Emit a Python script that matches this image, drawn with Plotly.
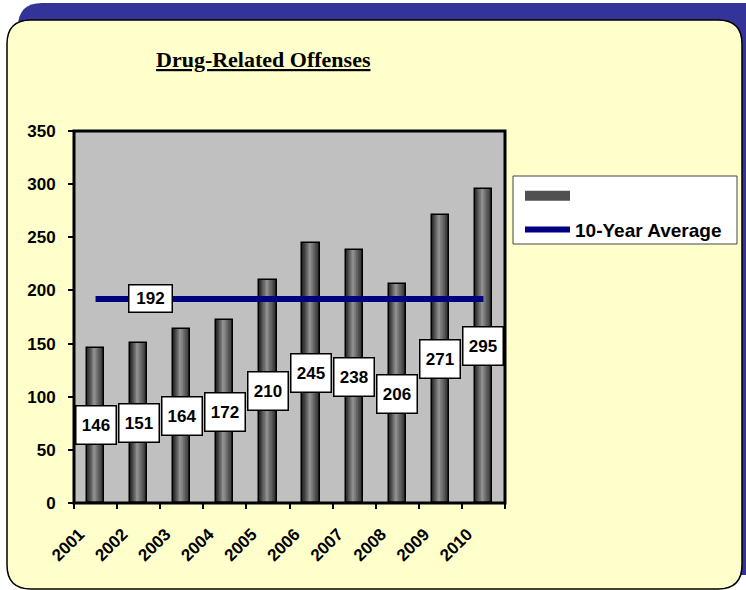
import plotly.graph_objects as go

years = ["2001", "2002", "2003", "2004", "2005", "2006", "2007", "2008", "2009", "2010"]
offenses = [146, 151, 164, 172, 210, 245, 238, 206, 271, 295]
avg_value = [192] * len(years)
avg_label = "192"
line_name = "10-Year Average"
title_text = "Drug-Related Offenses"

W, H = 746, 590
PL, PR, PT, PB = 74, 505, 131, 503  # plot area in pixels


def px(x):
    return (x - PL) / (PR - PL)


def py(y):
    return (PB - y) / (PB - PT)


def rrect(x0, y0, x1, y1, r):
    pts = [
        ("M", [(x0 + r, y0)]),
        ("L", [(x1 - r, y0)]),
        ("Q", [(x1, y0), (x1, y0 + r)]),
        ("L", [(x1, y1 - r)]),
        ("Q", [(x1, y1), (x1 - r, y1)]),
        ("L", [(x0 + r, y1)]),
        ("Q", [(x0, y1), (x0, y1 - r)]),
        ("L", [(x0, y0 + r)]),
        ("Q", [(x0, y0), (x0 + r, y0)]),
    ]
    s = ""
    for cmd, ps in pts:
        s += cmd + " " + " ".join(f"{px(a):.5f},{py(b):.5f}" for a, b in ps) + " "
    return s + "Z"


FONT = "Arial, Liberation Sans, sans-serif"
fig = go.Figure()

# gradient bars built from nested overlay layers
bar_w = 0.40
left = -bar_w / 2
hp = 0.42  # highlight position within bar
N = 14
dark = (40, 40, 40)
light = (150, 150, 150)
for i in range(N):
    f = i / N
    l = left + hp * f * bar_w
    r = left + bar_w - (1 - hp) * f * bar_w
    c = tuple(int(dark[k] + (light[k] - dark[k]) * f) for k in range(3))
    fig.add_trace(go.Bar(
        x=years, y=offenses, width=[max(r - l, 0.005)] * len(years), offset=[l] * len(years),
        marker=dict(color=f"rgb{c}", line=dict(width=0)),
        showlegend=False, hoverinfo="skip",
    ))
# outline
fig.add_trace(go.Bar(
    x=years, y=offenses, width=[bar_w] * len(years), offset=[left] * len(years),
    marker=dict(color="rgba(0,0,0,0)", line=dict(color="black", width=1.5)),
    showlegend=False, hoverinfo="skip",
))
# legend swatch for the bar series (no data drawn)
fig.add_trace(go.Scatter(
    x=[None], y=[None], mode="lines", name=" ", legendgroup="a",
    line=dict(color="#505050", width=13),
))

fig.add_trace(go.Scatter(
    x=years, y=avg_value, mode="lines", name=line_name, legendgroup="b",
    line=dict(color="#000080", width=6),
))

shapes = [
    dict(type="path", xref="paper", yref="paper", path=rrect(18, 3, 770, 575, 24),
         fillcolor="#333399", line=dict(width=0), layer="below"),
    dict(type="path", xref="paper", yref="paper", path=rrect(7, 20, 742, 589, 24),
         fillcolor="#FFFFCC", line=dict(color="black", width=1.5), layer="below"),
    dict(type="rect", xref="paper", yref="paper", x0=0, x1=1, y0=0, y1=1,
         fillcolor="#C0C0C0", line=dict(width=0), layer="below"),
    dict(type="rect", xref="paper", yref="paper", x0=px(513), x1=px(737), y0=py(176), y1=py(244),
         fillcolor="white", line=dict(color="#444", width=1), layer="below"),
    dict(type="rect", xref="paper", yref="paper", x0=0, x1=1, y0=0, y1=1,
         fillcolor="rgba(0,0,0,0)", line=dict(color="black", width=3), layer="above"),
]

annotations = []
for i, v in enumerate(offenses):
    annotations.append(dict(
        x=i, y=v / 2, xref="x", yref="y", text=str(v), showarrow=False,
        font=dict(family=FONT, size=17, color="black", weight="bold"),
        bgcolor="white", bordercolor="black", borderwidth=1.5, width=37, height=35,
    ))
annotations.append(dict(
    x=1.27, y=avg_value[0], xref="x", yref="y", text=avg_label, showarrow=False,
    font=dict(family=FONT, size=17, color="black", weight="bold"),
    bgcolor="white", bordercolor="black", borderwidth=1.5, width=40, height=24,
))
annotations.append(dict(
    x=px(263), y=py(60), xref="paper", yref="paper", text=f"<u>{title_text}</u>",
    showarrow=False, xanchor="center", yanchor="middle",
    font=dict(family="Times New Roman, Liberation Serif, serif", size=22, color="black", weight="bold"),
))

fig.update_layout(
    width=W, height=H,
    margin=dict(l=PL, r=W - PR, t=PT, b=H - PB, pad=0),
    paper_bgcolor="white", plot_bgcolor="rgba(0,0,0,0)",
    barmode="overlay", bargap=0,
    shapes=shapes, annotations=annotations,
    font=dict(family=FONT, color="black"),
    legend=dict(
        x=px(520), y=py(177), xanchor="left", yanchor="top",
        bgcolor="rgba(0,0,0,0)", borderwidth=0,
        font=dict(family=FONT, size=19, color="black", weight="bold"),
        itemwidth=45, traceorder="grouped", tracegroupgap=6,
    ),
    xaxis=dict(
        type="category", tickangle=-45, tickson="boundaries", ticks="outside",
        ticklen=5, tickwidth=1.5, tickcolor="black", showgrid=False,
        showline=False, zeroline=False,
        tickfont=dict(family=FONT, size=17, color="black", weight="bold"),
        range=[-0.5, 9.5], ticklabelshift=-16, ticklabelstandoff=17,
    ),
    yaxis=dict(
        range=[0, 350], dtick=50, ticks="outside", ticklen=5, tickwidth=1.5,
        tickcolor="black", showgrid=False, zeroline=False, showline=False,
        tickfont=dict(family=FONT, size=17, color="black", weight="bold"),
        ticklabelstandoff=9,
    ),
)

fig.write_html("out.html", post_script="document.body.style.margin='0px';",
               config={"displayModeBar": False})
